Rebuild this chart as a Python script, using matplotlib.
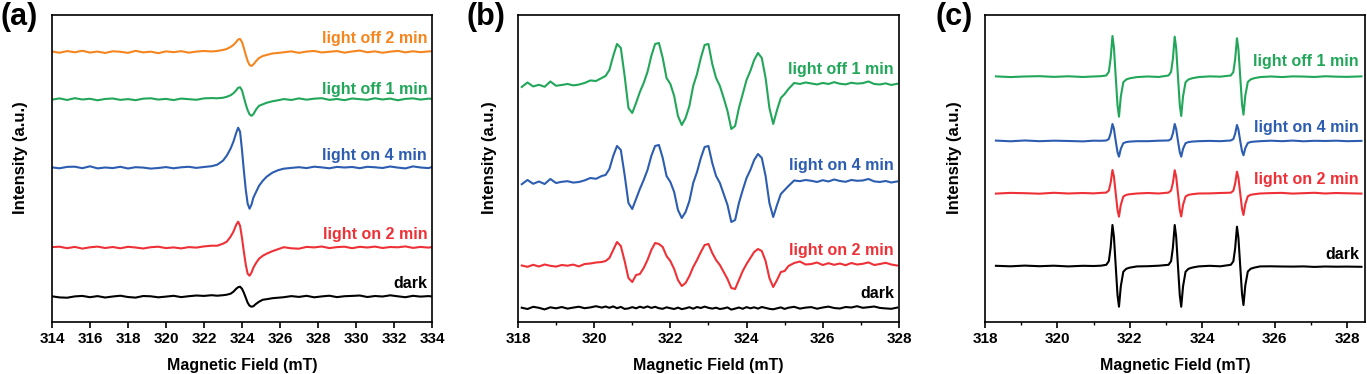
import numpy as np
import matplotlib
matplotlib.use("Agg")
import matplotlib.pyplot as plt
from matplotlib.ticker import MultipleLocator

plt.rcParams['font.family'] = ['Liberation Sans', 'DejaVu Sans']
plt.rcParams['font.weight'] = 'bold'
plt.rcParams['axes.labelweight'] = 'bold'

# ---------------------------------------------------------------
# colours of the spectra
# ---------------------------------------------------------------
c_orange = '#F5861F'
c_green = '#22A75A'
c_blue = '#2C5DB0'
c_red = '#EE3137'
c_black = '#000000'

# ---------------------------------------------------------------
# Panel (a) : signal (a.u.), common field grid
# ---------------------------------------------------------------
field_a = [314.0, 314.4, 314.8, 315.2, 315.6, 316.0, 316.4, 316.8, 317.2, 317.6,
           318.0, 318.4, 318.8, 319.2, 319.6, 320.0, 320.4, 320.8, 321.2, 321.6,
           322.0, 322.4,
           322.7, 323.0, 323.2, 323.4, 323.55, 323.7, 323.8, 323.9, 324.0, 324.1,
           324.2, 324.3, 324.4, 324.5, 324.6, 324.75, 324.9, 325.1, 325.3, 325.6, 325.9,
           326.2, 326.6, 327.0, 327.4, 327.8, 328.2, 328.6, 329.0, 329.4, 329.8,
           330.2, 330.6, 331.0, 331.4, 331.8, 332.2, 332.6, 333.0, 333.4, 333.8, 334.0]

off2_a = ([0.5, -0.8, 0.9, -0.3, 1.2, -0.6, 0.4, -1.0, 0.7, 0.2, -0.9, 1.1, -0.4, 0.3, -1.2, 0.6, -0.2, 0.8, -0.7, 0.4, 1.0, 0.5]
          + [1, 2, 3, 5, 7, 10, 12.5, 13, 10, 4, -3, -9, -13, -14, -12.5, -9, -6, -4, -3, -1.5, -1]
          + [-0.3, 0.6, -0.9, 0.4, 1.0, -0.5, 0.2, 0.9, -0.7, 0.5, 1.4, -0.3, 0.6, -0.8, 0.3, 1.1, -0.4, 0.7, -0.2, 0.5, 0.8])
off1_a = ([-0.4, 0.9, -0.7, 1.1, -0.2, 0.5, -1.0, 0.3, 0.8, -0.6, 0.2, -0.9, 0.6, 1.0, -0.3, 0.4, -0.8, 0.7, 0.1, -0.5, 0.9, 1.2]
          + [1, 1.5, 2.5, 4, 6, 9, 11.5, 12, 9, 2, -5, -11, -15, -16.5, -15, -10, -6.5, -5, -3.5, -2, -1]
          + [0.2, -0.7, 0.9, -0.4, 0.6, 1.1, -0.6, 0.3, -0.9, 0.8, 0.1, -0.5, 1.0, -0.2, 0.7, -1.0, 0.4, 0.9, -0.3, 0.6, 0.5])
on4_a = ([0.3, -0.6, 0.8, 1.0, -0.5, 1.4, -0.7, 0.2, -0.4, 0.9, -0.8, 0.5, 0.1, -0.9, -0.3, 0.6, -0.6, 0.4, 0.9, -0.2, 0.7, 1.5]
         + [3, 7, 12, 19, 26, 35, 40, 36, 18, -3, -22, -36, -41, -37, -30, -24, -18, -13, -9, -5, -2.5]
         + [-1.0, -0.2, 0.5, -0.4, 1.0, 0.3, -0.6, 0.8, 0.2, 0.7, -0.5, 0.9, 0.4, -0.3, 1.2, 0.1, -0.7, 1.3, 0.2, -0.4, 0.6])
on2_a = ([0.6, 1.0, -0.5, 0.8, -0.9, 0.4, 1.1, -0.3, 0.7, -0.6, 0.9, 0.2, -0.8, 0.5, 1.0, -0.4, 0.3, -0.7, 0.6, 0.1, 1.3, 2.0]
         + [2, 4, 6, 11, 16, 23, 26, 22, 10, -4, -17, -26, -28, -25, -20, -15, -11, -8, -6, -3.5, -1.5]
         + [0.5, -0.6, -1.0, 0.8, 0.3, 1.2, -0.4, 0.6, 1.0, -0.5, 0.9, 0.2, 1.1, -0.3, 0.7, 0.4, 1.3, -0.2, 0.8, 0.1, 0.6])
dark_a = ([0.4, -0.7, -1.0, 0.3, 0.8, -0.5, 0.6, -0.8, 0.2, 1.0, -0.3, -0.9, 0.7, 0.4, -0.6, 0.1, 0.9, -0.4, 0.5, 1.2, 0.8, 1.5]
          + [1, 1.5, 2, 3, 5, 8, 9.5, 10, 8, 4, -1, -6, -9, -10, -9.5, -7, -5, -3, -2.5, -1.5, -1]
          + [-0.5, 0.6, -0.2, 0.9, -0.6, 0.3, 1.0, -0.4, 0.5, 0.8, 1.2, -0.3, 0.7, 0.2, 1.4, 0.4, -0.5, 0.9, 0.1, 0.6, 0.3])

# ---------------------------------------------------------------
# Panel (b)
# ---------------------------------------------------------------
field_b = ([318.1, 318.25, 318.4, 318.55, 318.7, 318.85, 319.0, 319.15, 319.3, 319.45,
            319.6, 319.75, 319.9, 320.05, 320.2]
           + [320.3, 320.4, 320.5, 320.6, 320.7, 320.8, 320.9, 321.0, 321.1, 321.2,
              321.3, 321.4, 321.5, 321.6, 321.7, 321.8, 321.9, 322.0, 322.1, 322.2,
              322.3, 322.4, 322.5, 322.6, 322.7, 322.8, 322.9, 323.0, 323.1, 323.2,
              323.3, 323.4, 323.5, 323.6, 323.7, 323.8, 323.9, 324.0, 324.1, 324.2,
              324.3, 324.4, 324.5, 324.6, 324.7, 324.8, 324.9, 325.0, 325.1]
           + [325.25, 325.4, 325.55, 325.7, 325.85, 326.0, 326.15, 326.3, 326.45, 326.6,
              326.75, 326.9, 327.05, 327.2, 327.35, 327.5, 327.65, 327.8, 327.95])

off1_b = ([-1.0, 3.5, -0.5, 1.2, -0.8, 4.5, 0.2, 1.0, 2.0, 0.6, 1.4, 3.0, 5.5, 5.0, 8.0]
          + [10, 16, 30, 42, 38, 10, -22, -27, -17, -6, 3, 14, 30, 42, 43, 28, 8, 2, -10, -30,
             -39, -32, -20, 0, 12, 28, 41, 42, 22, 8, 0, -12, -25, -43, -40, -22, -8, 6, 15, 26,
             33, 28, 8, -22, -38, -24, -12, -8, -3]
          + [3.0, 2.0, 3.5, 2.5, 1.5, 3.0, 2.0, 3.8, 2.2, 1.6, 3.2, 2.4, 2.8, 4.5, 2.0, 1.5, 2.6, 1.0, 2.2])
on4_b = ([-1.2, 3.0, -0.8, 1.5, -1.0, 4.0, 0.0, 1.2, 1.8, 0.4, 1.0, 2.6, 5.0, 4.2, 7.0]
         + [8, 14, 27, 37, 33, 8, -20, -26, -16, -6, 3, 13, 27, 37, 38, 25, 7, 1, -9, -27,
            -35, -29, -18, 0, 11, 25, 36, 37, 20, 7, 0, -11, -22, -39, -37, -20, -7, 5, 13, 23,
            29, 25, 7, -20, -34, -22, -11, -7, -3]
         + [2.5, 1.8, 3.0, 2.2, 1.0, 2.8, 1.5, 3.5, 2.0, 1.2, 3.0, 2.2, 2.5, 4.0, 1.6, 1.0, 2.0, 0.5, 1.5])
on2_b = ([0.5, -0.8, 1.2, -0.5, 1.5, 0.2, -0.6, 1.0, 0.3, 1.4, -0.4, 2.0, 2.5, 3.5, 4.0]
         + [5, 8, 16, 24, 20, 5, -12, -16, -9, -8, -2, 6, 16, 23, 22, 19, 10, 5, -3, -14,
            -20, -17, -10, -1, 6, 14, 21, 22, 13, 6, 1, -6, -13, -22, -23, -14, -5, 2, 8, 14,
            17, 15, 5, -12, -21, -14, -6, -5, 0]
         + [3.0, 4.5, 1.5, 2.0, 3.5, 1.0, 2.8, 1.2, 2.5, 0.8, 3.0, 1.5, 2.2, 3.6, 1.0, 2.0, 3.2, 1.5, 0.5])
dark_b = ([0.3, -1.0, 1.2, 0.2, -1.4, 0.7, -0.3, 1.0, -0.6, 0.4, 1.3, -0.2, 0.6, 1.8, 0.4]
          + [1.5, 0.2, 1.6, -0.2, 1.1, -0.9, -0.4, 0.9, -0.3, 1.3, 0.2, 1.6, 0.1, 1.2, -0.2, -0.8, 0.7,
             -0.2, -1.0, 0.4, -1.1, -0.3, 0.8, -0.7, 1.0, 0.0, 1.4, 0.2, -0.6, 0.3, -1.0, -0.4, 0.6,
             -1.6, -0.6, 0.5, -0.8, 0.9, -0.3, 0.7, -0.6, 1.0, 0.1, -0.8, -1.3, -0.3, 0.6, -0.9, 0.3]
          + [1.2, -0.6, 0.4, 0.9, -0.7, 0.5, 1.4, 0.0, -0.5, 1.0, 0.5, 1.8, 0.2, 0.8, 1.5, 0.1, -0.4, -0.8, 0.4])

# ---------------------------------------------------------------
# Panel (c)
# ---------------------------------------------------------------
field_c = ([318.3, 318.7, 319.1, 319.5, 319.9, 320.3, 320.7, 321.0, 321.2]
           + [321.35, 321.42, 321.47, 321.52, 321.56, 321.61, 321.66, 321.70, 321.75, 321.82, 321.9, 322.0, 322.2]
           + [322.5, 322.8]
           + [323.07, 323.14, 323.19, 323.24, 323.28, 323.33, 323.38, 323.42, 323.47, 323.54, 323.62, 323.72, 323.9]
           + [324.2, 324.5]
           + [324.79, 324.86, 324.91, 324.96, 325.0, 325.05, 325.1, 325.14, 325.19, 325.26, 325.34, 325.44, 325.6]
           + [325.9, 326.2, 326.5, 326.8, 327.1, 327.4, 327.7, 328.0, 328.4])

off1_c = ([0.3, -0.4, 0.2, 0.5, -0.2, 0.4, -0.3, 0.2, 0.5]
          + [1.2, 4.9, 18.3, 40.7, 29.3, 0, -28.8, -40.0, -20.0, -5.6, -2.8, -1.6, -0.4]
          + [0.2, -0.3]
          + [1.2, 4.8, 18.0, 40.0, 28.8, 0, -28.3, -39.3, -19.7, -5.5, -2.8, -1.6, -0.4]
          + [0.3, 0.0]
          + [1.2, 4.6, 17.3, 38.4, 27.6, 0, -27.4, -38.0, -19.0, -5.3, -2.7, -1.5, -0.4]
          + [0.2, -0.4, 0.3, 0.1, -0.3, 0.4, 0.0, -0.2, 0.3])
on4_c = ([0.4, -0.3, 0.5, -0.2, 0.3, 0.0, -0.4, 0.3, 0.2]
         + [0.5, 2.0, 7.7, 17.0, 12.2, 0, -11.3, -15.7, -7.9, -2.2, -1.1, -0.6, -0.2]
         + [-0.2, 0.3]
         + [0.5, 2.0, 7.6, 17.0, 12.0, 0, -11.2, -15.7, -7.8, -2.2, -1.1, -0.6, -0.2]
         + [0.1, -0.2]
         + [0.5, 1.9, 7.2, 16.0, 11.5, 0, -10.3, -14.3, -7.2, -2.0, -1.0, -0.6, -0.2]
         + [0.3, -0.2, 0.4, -0.3, 0.2, 0.0, 0.3, -0.2, 0.1])
on2_c = ([-0.3, 0.4, 0.1, -0.4, 0.5, -0.2, 0.3, -0.1, 0.4]
         + [0.7, 2.8, 10.5, 23.3, 16.8, 0, -16.8, -23.4, -11.7, -3.3, -1.6, -0.9, -0.2]
         + [0.3, -0.2]
         + [0.7, 2.8, 10.4, 23.1, 16.6, 0, -16.6, -23.2, -11.6, -3.2, -1.6, -0.9, -0.2]
         + [-0.1, 0.3]
         + [0.6, 2.6, 9.7, 21.6, 15.6, 0, -15.6, -21.7, -10.9, -3.0, -1.5, -0.9, -0.2]
         + [0.2, 0.4, -0.3, 0.1, 0.5, -0.2, 0.3, 0.0, -0.3])
dark_c = ([0.2, -0.3, 0.4, -0.2, 0.3, -0.4, 0.2, 0.0, 0.3]
          + [1.2, 4.9, 18.5, 41.0, 29.5, 0, -29.3, -40.7, -20.4, -5.7, -2.8, -1.6, -0.4]
          + [-0.2, 0.3]
          + [1.2, 4.9, 18.5, 41.0, 29.5, 0, -29.3, -40.7, -20.4, -5.7, -2.8, -1.6, -0.4]
          + [0.2, -0.3]
          + [1.2, 4.7, 17.7, 39.3, 28.3, 0, -28.1, -39.0, -19.5, -5.5, -2.7, -1.6, -0.4]
          + [-0.3, -0.5, -0.6, -0.4, -0.9, -0.5, -0.7, -0.6, -0.8])

# ---------------------------------------------------------------
# stacking: (label, colour, signal, vertical offset, label height)
# ---------------------------------------------------------------
panel_a = [('light off 2 min', c_orange, off2_a, 270.0, 283.0),
           ('light off 1 min', c_green, off1_a, 222.7, 232.7),
           ('light on 4 min', c_blue, on4_a, 154.3, 166.0),
           ('light on 2 min', c_red, on2_a, 74.3, 87.7),
           ('dark', c_black, dark_a, 25.3, 38.7)]
panel_b = [('light off 1 min', c_green, off1_b, 236.0, 252.7),
           ('light on 4 min', c_blue, on4_b, 139.0, 156.0),
           ('light on 2 min', c_red, on2_b, 56.0, 72.0),
           ('dark', c_black, dark_b, 14.0, 28.7)]
panel_c = [('light off 1 min', c_green, off1_c, 245.3, 260.3),
           ('light on 4 min', c_blue, on4_c, 181.0, 194.3),
           ('light on 2 min', c_red, on2_c, 128.7, 142.0),
           ('dark', c_black, dark_c, 56.0, 68.0)]

fig = plt.figure(figsize=(13.67, 3.74), dpi=100)


def draw_panel(rect, field, traces, xlim, minor, letter, letter_x, label_x, ylab_x):
    ax = fig.add_axes(rect)
    for name, col, sig, off, ylab in traces:
        ax.plot(field, np.array(sig) + off, color=col, lw=1.5)
        ax.text(label_x, ylab, name, color=col, fontsize=11.5, fontweight='bold',
                ha='right', va='center')
    ax.set_xlim(*xlim)
    ax.set_ylim(0, 307)
    ax.set_yticks([])
    ax.xaxis.set_major_locator(MultipleLocator(2))
    if minor:
        ax.xaxis.set_minor_locator(MultipleLocator(1))
    ax.tick_params(axis='x', which='major', direction='out', length=4, width=1.2,
                   labelsize=11, pad=3)
    ax.tick_params(axis='x', which='minor', direction='out', length=2.5, width=1.0)
    for lab in ax.get_xticklabels():
        lab.set_fontweight('bold')
    for sp in ax.spines.values():
        sp.set_linewidth(1.2)
    ax.set_xlabel('Magnetic Field (mT)', fontsize=11.5, fontweight='bold', labelpad=9)
    ax.set_ylabel('Intensity (a.u.)', fontsize=12, fontweight='bold')
    ax.yaxis.set_label_coords(ylab_x, 0.535)
    fig.text(letter_x, 0.955, letter, fontsize=22, fontweight='bold', ha='left', va='center')
    return ax


draw_panel([0.0380, 0.139, 0.278, 0.821], field_a, panel_a, (314, 334), False,
           '(a)', 0.0, 333.75, -0.063)
draw_panel([0.3789, 0.139, 0.2787, 0.821], field_b, panel_b, (318, 328), True,
           '(b)', 0.3416, 327.87, -0.055)
draw_panel([0.7206, 0.139, 0.278, 0.821], field_c, panel_c, (318, 328.5), True,
           '(c)', 0.684, 328.33, -0.06)

fig.savefig('out.png', dpi=100)
